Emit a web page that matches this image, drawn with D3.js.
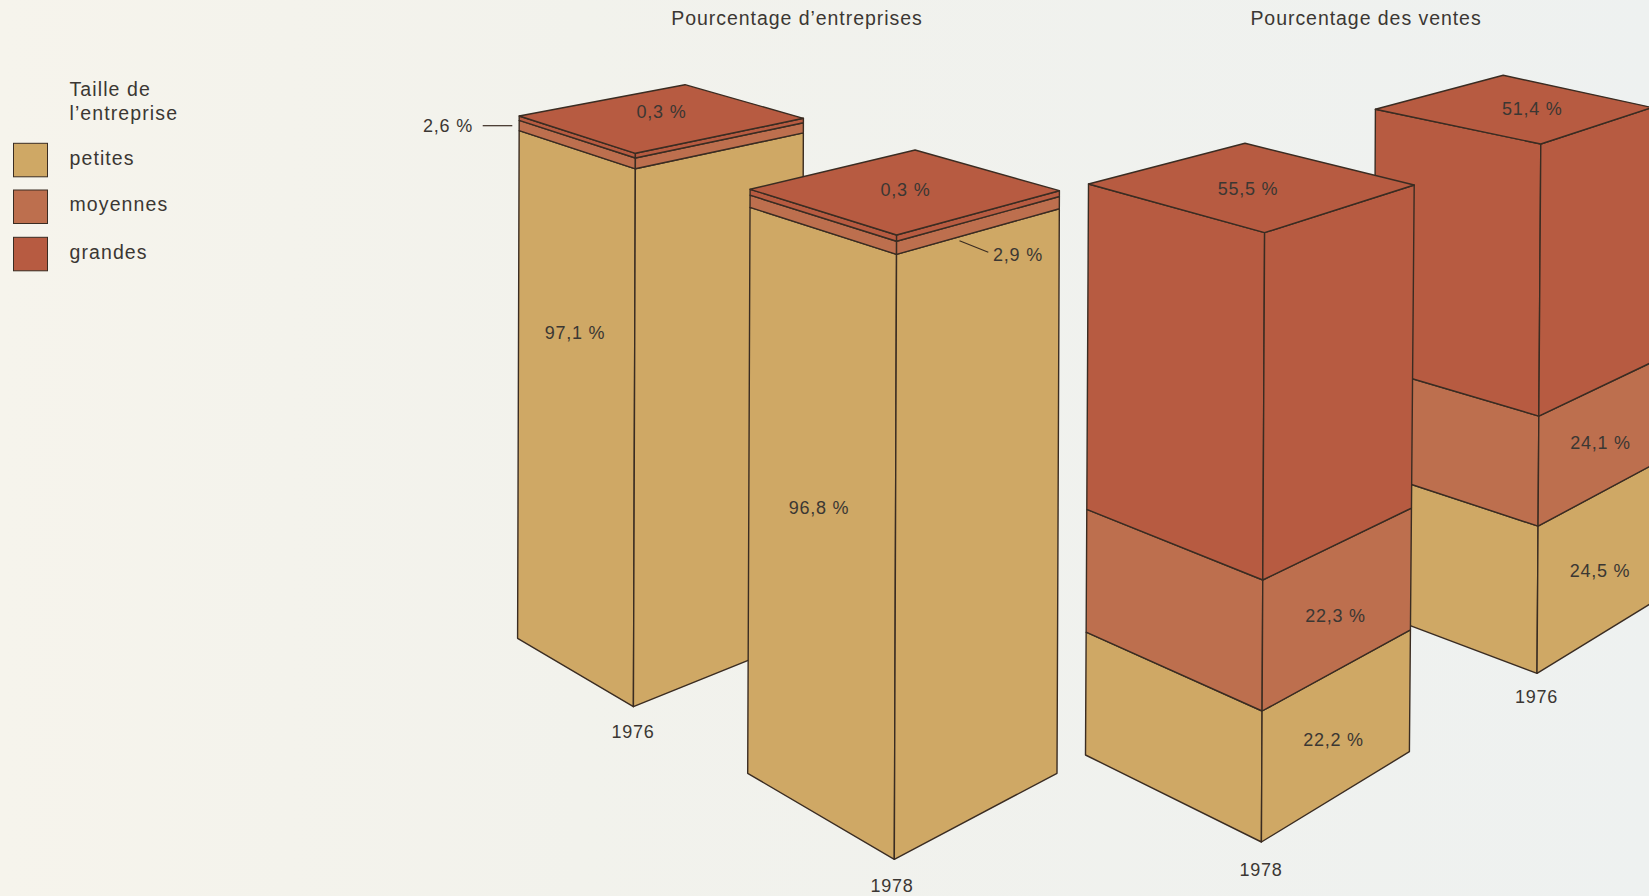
<!DOCTYPE html>
<html><head><meta charset="utf-8">
<script src="https://cdn.jsdelivr.net/npm/d3@7"></script>
<style>html,body{margin:0;padding:0;background:#f2f2ec;overflow:hidden}svg{display:block}
text{font-family:"Liberation Sans",Arial,sans-serif;fill:#3b3733;font-size:18px;letter-spacing:.75px}
text.title{font-size:19.5px;letter-spacing:.95px}
text.lg,text.lt{font-size:19.5px;letter-spacing:1.1px}</style>
</head><body><svg id="c" width="1649" height="896"></svg>
<script>
// ---- data ----
const panels = ["Pourcentage d’entreprises", "Pourcentage des ventes"];
const legendTitle = ["Taille de", "l’entreprise"];
const sizes = ["petites", "moyennes", "grandes"];
const columnKeys = ["e76", "e78", "v78", "v76"];
const years = ["1976", "1978", "1978", "1976"];
const petites = [97.1, 96.8, 22.2, 24.5];
const moyennes = [2.6, 2.9, 22.3, 24.1];
const grandes = [0.3, 0.3, 55.5, 51.4];

// ---- styling and layout ----
const colors = ["#cfa865", "#bd6f4e", "#b75b41"];
const ink = "#3a2c22";
const layout = {
  e76: {top:{l:[519.2,116],f:[635.4,153.3],r:[803.4,118.3],b:[685,84.7]},
        base:{l:[517.6,638.3],f:[633.4,706.7],r:[801.6,638.7]}, stops:[.972,.9915],
        labels:[[575,333.4],[448,126],[661.5,111.5]], year:[633,732]},
  e78: {top:{l:[750.1,189.3],f:[896.6,235],r:[1059.4,190.7],b:[915.1,150]},
        base:{l:[747.7,773.3],f:[894.3,859.3],r:[1057,773.3]}, stops:[.969,.99],
        labels:[[819,508],[1018,254.5],[905.5,190]], year:[892,885.5]},
  v78: {top:{l:[1088.5,184],f:[1264.6,232.7],r:[1414.2,185],b:[1245,143.3]},
        base:{l:[1085.5,755],f:[1261.4,842],r:[1409.4,751.7]}, stops:[.215,.43],
        labels:[[1333.6,740.4],[1335.6,616.3],[1248,189]], year:[1261,870]},
  v76: {top:{l:[1375.4,109.3],f:[1540.8,144],r:[1652,107.5],b:[1503.2,75.3]},
        base:{l:[1373,611.6],f:[1537,673.3],r:[1650,604]}, stops:[.278,.486],
        labels:[[1600,571],[1600.6,442.8],[1532.3,109.4]], year:[1536.6,697]}
};
const leaders = {e76:[[482.7,125.7],[512.3,125.7]], e78:[[959.5,240.7],[988.3,252.3]]};
const drawOrder = [0,1,3,2];

const svg = d3.select("#c");
const defs = svg.append("defs");
const g = defs.append("linearGradient").attr("id","paper");
g.append("stop").attr("offset","0").attr("stop-color","#f6f4ec");
g.append("stop").attr("offset",".35").attr("stop-color","#f2f2ec");
g.append("stop").attr("offset","1").attr("stop-color","#eef1f0");
svg.append("rect").attr("width",1649).attr("height",896).attr("fill","url(#paper)");

const poly = d3.line().curve(d3.curveLinearClosed);
const fmt = v => d3.format(".1f")(v).replace(".", ",") + " %";

drawOrder.forEach(i => {
  const L = layout[columnKeys[i]];
  const p = petites[i], m = moyennes[i];
  // value (cumulative %) -> share of the column's height
  const share = d3.scaleLinear().domain([0, p, p + m, 100]).range([0, L.stops[0], L.stops[1], 1]);
  // position of a cumulative value along each of the three vertical edges
  const edge = k => {
    const x = d3.scaleLinear().domain([0,1]).range([L.base[k][0], L.top[k][0]]);
    const y = d3.scaleLinear().domain([0,1]).range([L.base[k][1], L.top[k][1]]);
    return v => [x(share(v)), y(share(v))];
  };
  const eL = edge("l"), eF = edge("f"), eR = edge("r");
  const bands = [[0,p],[p,p+m],[p+m,100]];
  const col = svg.append("g").attr("class","column");
  col.selectAll("path.l").data(bands).join("path").attr("class","l")
    .attr("d", d => poly([eL(d[0]),eF(d[0]),eF(d[1]),eL(d[1])]))
    .attr("fill",(d,j)=>colors[j]);
  col.selectAll("path.r").data(bands).join("path").attr("class","r")
    .attr("d", d => poly([eF(d[0]),eR(d[0]),eR(d[1]),eF(d[1])]))
    .attr("fill",(d,j)=>colors[j]);
  col.append("path").attr("class","t")
    .attr("d", poly([L.top.l,L.top.b,L.top.r,L.top.f])).attr("fill",colors[2]);
  col.selectAll("path").attr("stroke",ink).attr("stroke-width",1.4).attr("stroke-linejoin","round");

  const vals = [petites[i],moyennes[i],grandes[i]];
  col.selectAll("text.v").data(vals).join("text").attr("class","v")
    .attr("x",(d,j)=>L.labels[j][0]).attr("y",(d,j)=>L.labels[j][1]+6)
    .attr("text-anchor","middle").text(fmt);
  col.append("text").attr("x",L.year[0]).attr("y",L.year[1]+6)
    .attr("text-anchor","middle").text(years[i]);
  const lead = leaders[columnKeys[i]];
  if (lead) col.append("path").attr("d",d3.line()(lead)).attr("fill","none").attr("stroke",ink).attr("stroke-width",1.2);
});

// panel titles
const titleX = [797,1366];
svg.selectAll("text.title").data(panels).join("text").attr("class","title")
  .attr("x",(d,i)=>titleX[i]).attr("y",24.5).attr("text-anchor","middle").text(d=>d);

// legend
svg.selectAll("text.lt").data(legendTitle).join("text").attr("class","lt")
  .attr("x",69.5).attr("y",(d,i)=>96+i*23.5).text(d=>d);
const legY = [143.3,190,237.3], legTxt = [165,210.5,259];
svg.selectAll("rect.sw").data(sizes).join("rect").attr("class","sw")
  .attr("x",13.5).attr("y",(d,i)=>legY[i]).attr("width",34).attr("height",33.5)
  .attr("fill",(d,i)=>colors[i]).attr("stroke",ink).attr("stroke-width",1);
svg.selectAll("text.lg").data(sizes).join("text").attr("class","lg")
  .attr("x",69.5).attr("y",(d,i)=>legTxt[i]).text(d=>d);
</script></body></html>
